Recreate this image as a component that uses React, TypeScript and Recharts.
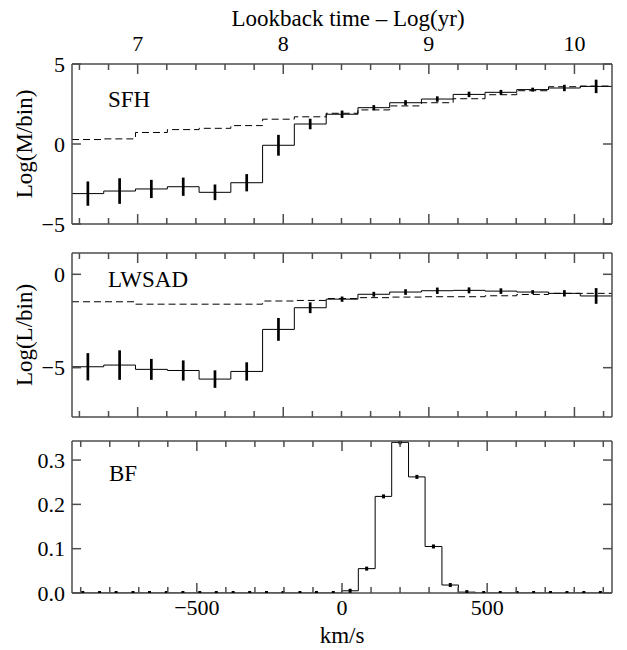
import React from 'react';
import { ComposedChart, Line, Scatter, ErrorBar, XAxis, YAxis } from 'recharts';

const SERIF = "'Liberation Serif', 'Times New Roman', Times, serif";
const INK = '#000';
const FRAME = '#4d4d4d';

// age bins (log yr), shared by the SFH and LWSAD panels
const logAge = [6.658, 6.876, 7.094, 7.313, 7.531, 7.749, 7.967, 8.185, 8.404, 8.622, 8.84, 9.058, 9.276, 9.495, 9.713, 9.931, 10.149];
const ageHalfBin = 0.109;
const ageDomain = [6.549, 10.258];
const ageTicks = [6.6, 6.8, 7, 7.2, 7.4, 7.6, 7.8, 8, 8.2, 8.4, 8.6, 8.8, 9, 9.2, 9.4, 9.6, 9.8, 10, 10.2];
const ageMajor = [7, 8, 9, 10];

// SFH: recovered (solid + errors) and input model (dashed)
const sfhFit = [-3.1, -2.94, -2.81, -2.67, -3.02, -2.42, -0.08, 1.25, 1.86, 2.27, 2.58, 2.81, 3.1, 3.23, 3.4, 3.5, 3.6];
const sfhErr = [0.76, 0.8, 0.57, 0.57, 0.49, 0.54, 0.65, 0.33, 0.23, 0.16, 0.16, 0.17, 0.17, 0.15, 0.12, 0.2, 0.42];
const sfhModel = [0.28, 0.32, 0.72, 0.9, 0.98, 1.15, 1.55, 1.7, 1.92, 2.13, 2.38, 2.58, 2.83, 3.08, 3.33, 3.58, 3.62];
const sfhTicks = [-5, 0, 5];

// LWSAD
const lwsadFit = [-4.95, -4.86, -5.09, -5.15, -5.61, -5.2, -2.95, -1.79, -1.33, -1.07, -0.95, -0.88, -0.86, -0.9, -0.95, -1.02, -1.16];
const lwsadErr = [0.73, 0.79, 0.56, 0.54, 0.47, 0.49, 0.61, 0.29, 0.14, 0.13, 0.15, 0.17, 0.16, 0.15, 0.1, 0.17, 0.42];
const lwsadModel = [-1.47, -1.47, -1.6, -1.6, -1.6, -1.6, -1.43, -1.4, -1.3, -1.25, -1.22, -1.2, -1.2, -1.15, -1.08, -1.02, -1.02];
const lwsadTicks = [-5, 0];

// broadening function
const velocity = [-893, -835, -778, -720, -663, -605, -548, -490, -433, -375, -318, -260, -203, -145, -88, -30, 28, 85, 143, 200, 258, 315, 373, 430, 488, 545, 603, 660, 718, 775, 833, 890];
const velHalfBin = 28.8;
const bf = [0, 0, 0, 0, 0, 0, 0, 0, 0, 0, 0, 0, 0, 0, 0, 0, 0.005, 0.055, 0.218, 0.34, 0.262, 0.105, 0.018, 0.002, 0, 0, 0, 0, 0, 0, 0, 0];
const velTicks = [-900, -800, -700, -600, -500, -400, -300, -200, -100, 0, 100, 200, 300, 400, 500, 600, 700, 800, 900];
const velMajor = [-500, 0, 500];
const bfTicks = [0, 0.1, 0.2, 0.3];

const stepData = (xs: number[], ys: number[], hw: number) => [
  ...xs.map((x, i) => ({ x: x - hw, y: ys[i] })),
  { x: xs[xs.length - 1] + hw, y: ys[ys.length - 1] },
];
const pointData = (xs: number[], ys: number[], errs: number[]) =>
  xs.map((x, i) => ({ x, y: ys[i], err: errs[i] }));

const fmt = (v: number, digits = 0) => v.toFixed(digits).replace('-', '\u2212');
const isIn = (list: number[], v: number) => list.some((m) => Math.abs(m - v) < 1e-6);
const textStyle = { fontFamily: SERIF };

const xTick = (side: 'top' | 'bottom', major: number[], labelled: boolean, gap: number) => (props: any) => {
  const { x, y, payload } = props;
  const v = payload.value;
  const big = isIn(major, v);
  const dir = side === 'top' ? 1 : -1;
  return (
    <g>
      <line x1={x} x2={x} y1={y} y2={y + dir * (big ? 10 : 6)} stroke={FRAME} strokeWidth={1.5} />
      {labelled && big && (
        <text x={x} y={side === 'top' ? y - gap : y + gap} textAnchor="middle" style={textStyle} fontSize={22} fill={INK}>
          {fmt(v)}
        </text>
      )}
    </g>
  );
};

const yTick = (side: 'left' | 'right', digits: number) => (props: any) => {
  const { x, y, payload } = props;
  const dir = side === 'left' ? 1 : -1;
  return (
    <g>
      <line x1={x} x2={x + dir * 9} y1={y} y2={y} stroke={FRAME} strokeWidth={1.5} />
      {side === 'left' && (
        <text x={x - 7} y={y + 7.5} textAnchor="end" style={textStyle} fontSize={22} fill={INK}>
          {fmt(payload.value, digits)}
        </text>
      )}
    </g>
  );
};

const axisLine = { stroke: FRAME, strokeWidth: 1.5 };
const noBar = () => <g />;

interface PanelProps {
  top: number;
  height: number;
  topAxisH: number;
  bottomAxisH: number;
  xDomain: number[];
  xTicks: number[];
  xMajor: number[];
  topLabels: boolean;
  bottomLabels: boolean;
  yDomain: number[];
  yTicks: number[];
  yDigits: number;
  children: React.ReactNode;
}

function Panel(p: PanelProps) {
  return (
    <div style={{ position: 'absolute', left: 0, top: p.top }}>
      <ComposedChart width={627} height={p.height} margin={{ top: 0, right: 0, bottom: 0, left: 0 }}>
        <XAxis xAxisId="b" dataKey="x" type="number" domain={p.xDomain} allowDataOverflow ticks={p.xTicks} interval={0}
          height={p.bottomAxisH} tickSize={0} tickMargin={0} tickLine={false} axisLine={axisLine}
          tick={xTick('bottom', p.xMajor, p.bottomLabels, 22)} />
        <XAxis xAxisId="t" orientation="top" dataKey="x" type="number" domain={p.xDomain} allowDataOverflow ticks={p.xTicks} interval={0}
          height={p.topAxisH} tickSize={0} tickMargin={0} tickLine={false} axisLine={axisLine}
          tick={xTick('top', p.xMajor, p.topLabels, 13)} />
        <YAxis yAxisId="l" dataKey="y" type="number" domain={p.yDomain} allowDataOverflow ticks={p.yTicks} interval={0}
          width={72} tickSize={0} tickMargin={0} tickLine={false} axisLine={axisLine} tick={yTick('left', p.yDigits)} />
        <YAxis yAxisId="r" orientation="right" dataKey="y" type="number" domain={p.yDomain} allowDataOverflow ticks={p.yTicks} interval={0}
          width={15} tickSize={0} tickMargin={0} tickLine={false} axisLine={axisLine} tick={yTick('right', p.yDigits)} />
        {p.children}
      </ComposedChart>
    </div>
  );
}

function AgePanelSeries(fit: number[], err: number[], model: number[]) {
  return [
    <Line key="model" xAxisId="b" yAxisId="l" data={stepData(logAge, model, ageHalfBin)} dataKey="y" type="stepAfter"
      stroke={INK} strokeWidth={1} strokeDasharray="7 4" dot={false} isAnimationActive={false} />,
    <Line key="fit" xAxisId="b" yAxisId="l" data={stepData(logAge, fit, ageHalfBin)} dataKey="y" type="stepAfter"
      stroke={INK} strokeWidth={1} dot={false} isAnimationActive={false} />,
    <Scatter key="err" xAxisId="b" yAxisId="l" data={pointData(logAge, fit, err)} dataKey="y" shape={noBar} isAnimationActive={false}>
      <ErrorBar dataKey="err" direction="y" width={0} stroke={INK} strokeWidth={2.7} />
    </Scatter>,
  ];
}

export default function App() {
  const label = { style: textStyle, fontSize: 23, fill: INK };
  return (
    <div style={{ position: 'absolute', left: 0, top: 0, width: 627, height: 650, background: '#fff' }}>
      <Panel top={0} height={240} topAxisH={64} bottomAxisH={16} xDomain={ageDomain} xTicks={ageTicks} xMajor={ageMajor}
        topLabels bottomLabels={false} yDomain={[-5, 5]} yTicks={sfhTicks} yDigits={0}>
        {AgePanelSeries(sfhFit, sfhErr, sfhModel)}
      </Panel>
      <Panel top={240} height={190} topAxisH={13} bottomAxisH={13} xDomain={ageDomain} xTicks={ageTicks} xMajor={ageMajor}
        topLabels={false} bottomLabels={false} yDomain={[-7.64, 1.14]} yTicks={lwsadTicks} yDigits={0}>
        {AgePanelSeries(lwsadFit, lwsadErr, lwsadModel)}
      </Panel>
      <Panel top={430} height={220} topAxisH={11} bottomAxisH={57} xDomain={[-930, 930]} xTicks={velTicks} xMajor={velMajor}
        topLabels={false} bottomLabels yDomain={[0, 0.343]} yTicks={bfTicks} yDigits={1}>
        <Line xAxisId="b" yAxisId="l" data={stepData(velocity, bf, velHalfBin)} dataKey="y" type="stepAfter"
          stroke={INK} strokeWidth={1} dot={false} isAnimationActive={false} />
        <Scatter xAxisId="b" yAxisId="l" data={velocity.map((x, i) => ({ x, y: bf[i] }))} dataKey="y" isAnimationActive={false}
          shape={(s: any) => <rect x={s.cx - 1.5} y={s.cy - 2} width={3} height={4} fill={INK} />} />
      </Panel>
      <svg width={627} height={650} style={{ position: 'absolute', left: 0, top: 0, pointerEvents: 'none' }}>
        <text x={348} y={26} textAnchor="middle" {...label}>Lookback time – Log(yr)</text>
        <text x={108} y={107} {...label}>SFH</text>
        <text x={108} y={287} {...label}>LWSAD</text>
        <text x={109} y={481} {...label}>BF</text>
        <text transform="translate(32,144) rotate(-90)" textAnchor="middle" {...label}>Log(M/bin)</text>
        <text transform="translate(32,335) rotate(-90)" textAnchor="middle" {...label}>Log(L/bin)</text>
        <text x={342} y={643} textAnchor="middle" {...label}>km/s</text>
      </svg>
    </div>
  );
}
